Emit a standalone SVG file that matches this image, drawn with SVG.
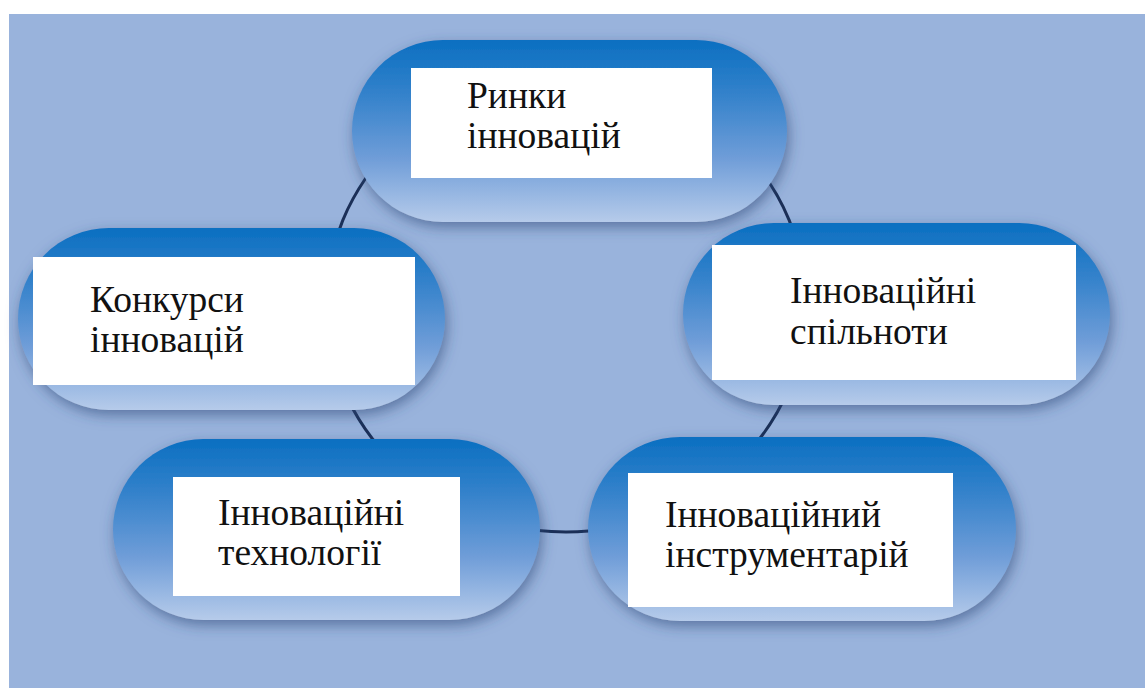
<svg xmlns="http://www.w3.org/2000/svg" width="1145" height="688" viewBox="0 0 1145 688">
<defs>
<linearGradient id="pillGrad" x1="0" y1="0" x2="0" y2="1">
<stop offset="0" stop-color="#0a6fc1"/>
<stop offset="0.3" stop-color="#3482cb"/>
<stop offset="0.65" stop-color="#6f9dd8"/>
<stop offset="1" stop-color="#b6cbea"/>
</linearGradient>
<filter id="shadow" x="-10%" y="-15%" width="120%" height="140%">
<feDropShadow dx="2" dy="5" stdDeviation="7" flood-color="#2a4a78" flood-opacity="0.6"/>
</filter>
<style>
.pill{fill:url(#pillGrad);filter:url(#shadow);}
.box{fill:#ffffff;}
.lbl{font-size:37.5px;fill:#111111;}
.conn{fill:none;stroke:#1b2f57;stroke-width:3;}
</style>
</defs>
<rect x="0" y="0" width="1145" height="688" fill="#ffffff"/>
<rect x="9" y="14" width="1136" height="674" fill="#99b3dc"/>
<g id="connectors">
<ellipse class="conn" cx="566" cy="304" rx="240" ry="228"/>
</g>
<g font-family="'Liberation Serif', 'DejaVu Serif', serif">
<g id="node-markets">
<rect class="pill" x="352" y="40" width="435" height="182" rx="91" ry="91"/>
<rect class="box" x="411" y="68" width="301" height="110"/>
<text class="lbl" x="467" y="108">Ринки</text>
<text class="lbl" x="467" y="148">інновацій</text>
</g>
<g id="node-contests">
<rect class="pill" x="18" y="228" width="427" height="182" rx="91" ry="91"/>
<rect class="box" x="33" y="257" width="382" height="128"/>
<text class="lbl" x="90" y="312">Конкурси</text>
<text class="lbl" x="90" y="352">інновацій</text>
</g>
<g id="node-communities">
<rect class="pill" x="683" y="223" width="427" height="182" rx="91" ry="91"/>
<rect class="box" x="712" y="245" width="364" height="135"/>
<text class="lbl" x="790" y="303">Інноваційні</text>
<text class="lbl" x="790" y="344">спільноти</text>
</g>
<g id="node-technologies">
<rect class="pill" x="113" y="439" width="427" height="181" rx="90.5" ry="90.5"/>
<rect class="box" x="173" y="477" width="287" height="119"/>
<text class="lbl" x="218" y="525">Інноваційні</text>
<text class="lbl" x="218" y="565">технології</text>
</g>
<g id="node-tools">
<rect class="pill" x="588" y="437" width="428" height="184" rx="92" ry="92"/>
<rect class="box" x="628" y="473" width="325" height="134"/>
<text class="lbl" x="665" y="527">Інноваційний</text>
<text class="lbl" x="665" y="567">інструментарій</text>
</g>
</g>
</svg>
